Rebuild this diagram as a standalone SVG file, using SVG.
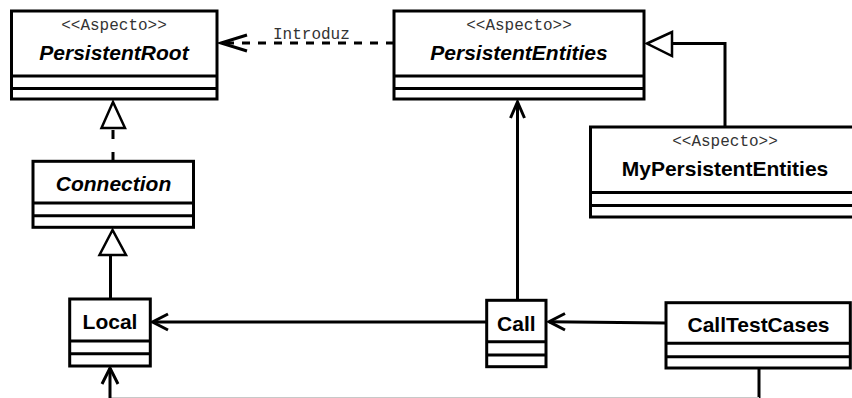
<svg xmlns="http://www.w3.org/2000/svg" width="852" height="398" viewBox="0 0 852 398">
<defs>
<style>
.box{fill:#fff;stroke:#000;stroke-width:3}
.div{stroke:#000;stroke-width:3}
.st{font-family:"Liberation Mono",monospace;font-size:16px;fill:#333;text-anchor:middle}
.nm{font-family:"Liberation Sans",Arial,sans-serif;font-size:21px;font-weight:bold;fill:#000;text-anchor:middle}
.it{font-style:italic}
.ln{fill:none;stroke:#000;stroke-width:3}
.dash{stroke-dasharray:8,8}
.tri{fill:#fff;stroke:#000;stroke-width:2.5;stroke-linejoin:miter}
.open{fill:none;stroke:#000;stroke-width:3;stroke-linejoin:miter}
.lbl{font-family:"Liberation Mono",monospace;font-size:16px;fill:#333}
</style>
</defs>
<rect width="852" height="398" fill="#fff"/>

<g id="connectors">
  <!-- Introduz -->
  <g id="c-introduz">
    <line class="ln dash" x1="394" y1="43" x2="221" y2="43"/>
    <polyline class="open" points="247,35 221,43 247,51"/>
    <text class="lbl" x="273" y="39">Introduz</text>
  </g>
  <!-- Connection realizes PersistentRoot -->
  <g id="c-conn-root">
    <line class="ln" x1="113" y1="161" x2="113" y2="128" style="stroke-dasharray:9,13"/>
    <polygon class="tri" points="113,102 101.5,128 125,128"/>
  </g>
  <!-- Local extends Connection -->
  <g id="c-local-conn">
    <line class="ln" x1="110.5" y1="299" x2="110.5" y2="255"/>
    <polygon class="tri" points="112.5,230 99.5,255 126,255"/>
  </g>
  <!-- MyPersistentEntities extends PersistentEntities -->
  <g id="c-mype-pe">
    <polyline class="ln" points="725,127 725,43.5 672,43.5"/>
    <polygon class="tri" points="647,43.5 672,32 672,56"/>
  </g>
  <!-- Call -> PersistentEntities -->
  <g id="c-call-pe">
    <line class="ln" x1="517.5" y1="300" x2="517.5" y2="102"/>
    <polyline class="open" points="510.5,118 517.5,102 524.5,118"/>
  </g>
  <!-- Call -> Local -->
  <g id="c-call-local">
    <line class="ln" x1="487" y1="322" x2="153" y2="322"/>
    <polyline class="open" points="168,314 152.5,322 168,330"/>
  </g>
  <!-- CallTestCases -> Call -->
  <g id="c-ctc-call">
    <line class="ln" x1="666" y1="323" x2="549" y2="321.7"/>
    <polyline class="open" points="565,313.5 549,321.7 565,330"/>
  </g>
  <!-- CallTestCases -> Local -->
  <g id="c-ctc-local">
    <line class="ln" x1="759" y1="368" x2="759" y2="398"/>
    <line x1="110" y1="397.5" x2="759" y2="397.5" stroke="#c8c8c8" stroke-width="1"/>
    <line class="ln" x1="110" y1="398" x2="110" y2="368"/>
    <polyline class="open" points="102,384 110,368 118,384"/>
  </g>
</g>

<g id="PersistentRoot">
  <rect class="box" x="11.5" y="11" width="205.5" height="88"/>
  <line class="div" x1="11.5" y1="76" x2="217" y2="76"/>
  <line class="div" x1="11.5" y1="88.5" x2="217" y2="88.5"/>
  <text class="st" x="114" y="30">&lt;&lt;Aspecto&gt;&gt;</text>
  <text class="nm it" x="114" y="60">PersistentRoot</text>
</g>

<g id="PersistentEntities">
  <rect class="box" x="394" y="11" width="250" height="88"/>
  <line class="div" x1="394" y1="76" x2="644" y2="76"/>
  <line class="div" x1="394" y1="88.5" x2="644" y2="88.5"/>
  <text class="st" x="519" y="30">&lt;&lt;Aspecto&gt;&gt;</text>
  <text class="nm it" x="519" y="60">PersistentEntities</text>
</g>

<g id="MyPersistentEntities">
  <rect class="box" x="590.5" y="127" width="272" height="90"/>
  <line class="div" x1="590.5" y1="192.5" x2="862" y2="192.5"/>
  <line class="div" x1="590.5" y1="205.5" x2="862" y2="205.5"/>
  <text class="st" x="725" y="146">&lt;&lt;Aspecto&gt;&gt;</text>
  <text class="nm" x="725" y="176">MyPersistentEntities</text>
</g>

<g id="Connection">
  <rect class="box" x="33" y="161.3" width="160.5" height="66"/>
  <line class="div" x1="33" y1="203" x2="193.5" y2="203"/>
  <line class="div" x1="33" y1="215.7" x2="193.5" y2="215.7"/>
  <text class="nm it" x="113.5" y="191">Connection</text>
</g>

<g id="Local">
  <rect class="box" x="69.7" y="299" width="80.6" height="67"/>
  <line class="div" x1="69.7" y1="341" x2="150.3" y2="341"/>
  <line class="div" x1="69.7" y1="353.7" x2="150.3" y2="353.7"/>
  <text class="nm" x="110" y="329">Local</text>
</g>

<g id="Call">
  <rect class="box" x="486.7" y="300.3" width="59.3" height="66.4"/>
  <line class="div" x1="486.7" y1="341.7" x2="546" y2="341.7"/>
  <line class="div" x1="486.7" y1="355" x2="546" y2="355"/>
  <text class="nm" x="516.3" y="331">Call</text>
</g>

<g id="CallTestCases">
  <rect class="box" x="666" y="302.7" width="184.3" height="65.3"/>
  <line class="div" x1="666" y1="343.3" x2="850.3" y2="343.3"/>
  <line class="div" x1="666" y1="356.7" x2="850.3" y2="356.7"/>
  <text class="nm" x="758.5" y="332">CallTestCases</text>
</g>
</svg>
